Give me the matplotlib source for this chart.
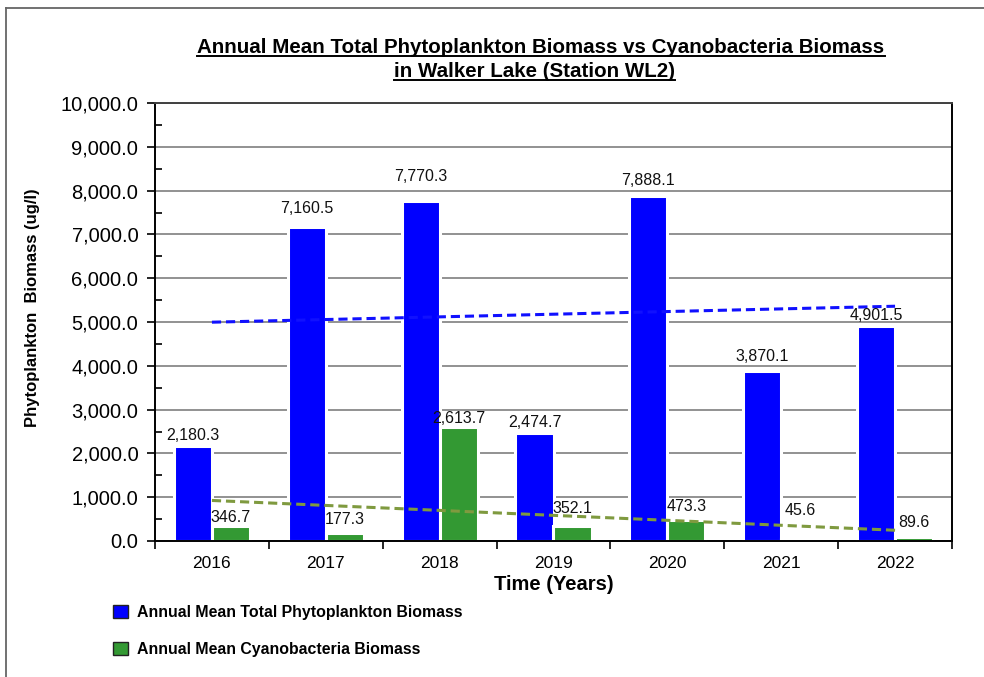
import numpy as np
import matplotlib
matplotlib.use("Agg")
import matplotlib.pyplot as plt
from matplotlib.patches import Patch
from matplotlib.lines import Line2D

plt.rcParams['font.family'] = ['Liberation Sans', 'DejaVu Sans']

# data
years = ['2016', '2017', '2018', '2019', '2020', '2021', '2022']
total_biomass = [2180.3, 7160.5, 7770.3, 2474.7, 7888.1, 3870.1, 4901.5]
cyano_biomass = [346.7, 177.3, 2613.7, 352.1, 473.3, 45.6, 89.6]

# label offsets (pixels above bar top) - the labels sit a bit uneven in the original
total_dy = [10, 19, 24, 10, 15, 15, 11]
cyano_dy = [8, 14, 8, 17, 14, 29, 15]

BLUE = '#0000ff'
GREEN = '#339933'

W, H = 984, 677
fig = plt.figure(figsize=(W / 100, H / 100), dpi=100)
ax = fig.add_axes([155 / W, 1 - 541 / H, (952 - 155) / W, (541 - 103) / H])

x = np.arange(len(years))
bw = 0.335
off = 0.167
ax.bar(x - off, total_biomass, bw, color=BLUE, edgecolor='white', linewidth=2.2, zorder=2)
ax.bar(x + off, cyano_biomass, bw, color=GREEN, edgecolor='white', linewidth=2.2, zorder=2)

# linear trendlines like excel
for vals, col in [(total_biomass, '#1010ff'), (cyano_biomass, '#7f9a3f')]:
    k, b = np.polyfit(x + 1, vals, 1)
    xx = np.array([x[0], x[-1]])
    ax.plot(xx, k * (xx + 1) + b, color=col, lw=2.2, ls=(0, (3, 1.6)), zorder=3)

for i in range(len(years)):
    ax.annotate(f'{total_biomass[i]:,.1f}', (x[i] - off, total_biomass[i]),
                xytext=(0, total_dy[i]), textcoords='offset pixels',
                ha='center', va='center', fontsize=11.5, color='#111111', zorder=5)
    ax.annotate(f'{cyano_biomass[i]:,.1f}', (x[i] + off, cyano_biomass[i]),
                xytext=(0, cyano_dy[i]), textcoords='offset pixels',
                ha='center', va='center', fontsize=11.5, color='#111111', zorder=5)

ax.set_xlim(-0.5, len(years) - 0.5)
ax.set_ylim(0, 10000)

# y axis
ax.set_yticks(np.arange(0, 10001, 1000))
ax.set_yticks(np.arange(500, 10000, 1000), minor=True)
ax.yaxis.set_major_formatter(matplotlib.ticker.FuncFormatter(lambda v, p: f'{v:,.1f}'))
ax.tick_params(axis='y', which='major', direction='out', length=6, width=1.2,
               labelsize=14.5, pad=6, colors='black')
ax.tick_params(axis='y', which='minor', direction='in', length=5, width=1.2)
ax.grid(axis='y', color='#7f7f7f', lw=1.2, zorder=1)
ax.set_axisbelow(True)

# x axis: ticks between categories, labels in the middle
ax.set_xticks(np.arange(-0.5, len(years), 1.0))
ax.set_xticklabels([])
ax.set_xticks(x, minor=True)
ax.set_xticklabels(years, minor=True)
ax.tick_params(axis='x', which='major', direction='out', length=6, width=1.2)
ax.tick_params(axis='x', which='minor', length=0, labelsize=12.5, pad=11)

for s in ['left', 'bottom', 'right']:
    ax.spines[s].set_color('black')
    ax.spines[s].set_linewidth(1.4)
ax.spines['top'].set_color('#404040')
ax.spines['top'].set_linewidth(1.4)

ax.set_xlabel('Time (Years)', fontsize=14.5, fontweight='bold', labelpad=3)
fig.text(33 / W, 1 - 308 / H, 'Phytoplankton  Biomass (ug/l)', rotation=90,
         ha='center', va='center', fontsize=12, fontweight='bold')

# title, underlined by hand
t1 = fig.text(541 / W, 1 - 53 / H, 'Annual Mean Total Phytoplankton Biomass vs Cyanobacteria Biomass',
              ha='center', va='baseline', fontsize=14.8, fontweight='bold')
t2 = fig.text(534 / W, 1 - 77 / H, 'in Walker Lake (Station WL2)',
              ha='center', va='baseline', fontsize=14.8, fontweight='bold')
fig.canvas.draw()
r = fig.canvas.get_renderer()
for t, yb in [(t1, 53), (t2, 77)]:
    bb = t.get_window_extent(r)
    yy = 1 - (yb + 2.5) / H
    fig.add_artist(Line2D([bb.x0 / W, bb.x1 / W], [yy, yy], color='black', lw=1.4))

handles = [Patch(facecolor=BLUE, edgecolor='#222222', lw=1),
           Patch(facecolor=GREEN, edgecolor='#222222', lw=1)]
fig.legend(handles, ['Annual Mean Total Phytoplankton Biomass', 'Annual Mean Cyanobacteria Biomass'],
           loc='upper left', bbox_to_anchor=(99 / W, 1 - 591 / H), frameon=False,
           prop={'weight': 'bold', 'size': 11.4}, handlelength=0.9, handleheight=0.9,
           handletextpad=0.6, labelspacing=1.35)

# outer chart border (runs off right/bottom edge)
fig.add_artist(Line2D([6 / W, 1.0], [1 - 8 / H, 1 - 8 / H], color='#666666', lw=1.3))
fig.add_artist(Line2D([6 / W, 6 / W], [0.0, 1 - 8 / H], color='#666666', lw=1.3))

fig.savefig('out.png', dpi=100)
